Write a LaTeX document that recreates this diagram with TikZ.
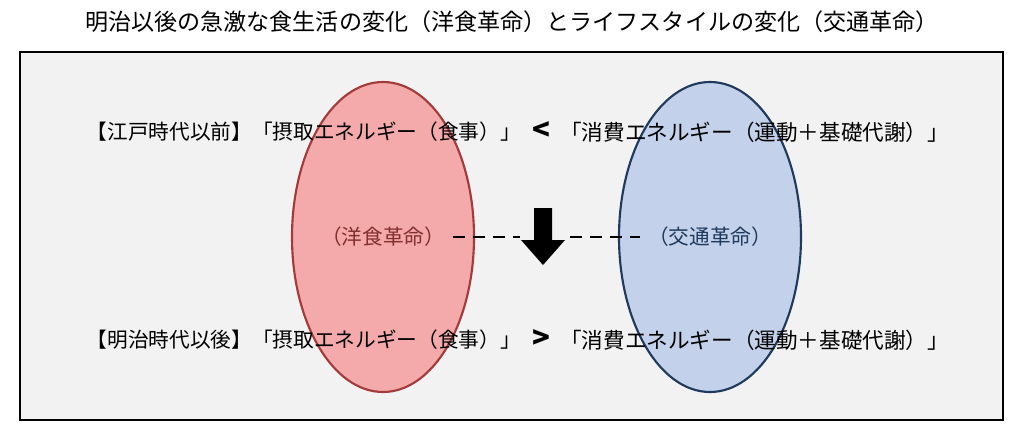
\documentclass[tikz,border=0pt]{standalone}
\usepackage{fontspec}
\setmainfont{Noto Sans CJK JP}
\usetikzlibrary{shapes.geometric,arrows.meta}
\definecolor{bg}{HTML}{F2F2F2}
\definecolor{redf}{HTML}{F4A9AA}
\definecolor{redd}{HTML}{A33B3B}
\definecolor{bluef}{HTML}{C3D2EA}
\definecolor{blued}{HTML}{1F3A5C}
\begin{document}
\begin{tikzpicture}[x=0.75pt,y=-0.75pt,
  txt/.style={inner sep=0pt,font=\fontsize{15.5}{18}\selectfont},
  dsh/.style={dash pattern=on 9pt off 6pt,line width=1pt}]
\useasboundingbox (0,0) rectangle (1024,439);
\node[txt,font=\fontsize{17.3}{20}\selectfont] (title) at (512,22) {明治以後の急激な食生活の変化（洋食革命）とライフスタイルの変化（交通革命）};
\draw[line width=2.2pt,fill=bg] (20,52) rectangle (1003,420);
\node[ellipse,draw=redd,fill=redf,line width=1.6pt,minimum width=182*0.75pt,minimum height=310*0.75pt,inner sep=0pt] (er) at (383,237) {};
\node[ellipse,draw=blued,fill=bluef,line width=1.6pt,minimum width=182*0.75pt,minimum height=310*0.75pt,inner sep=0pt] (eb) at (710,237) {};
\node[txt,anchor=east] (a1) at (521,132) {【江戸時代以前】「摂取エネルギー（食事）」};
\node[txt,font=\fontsize{22}{24}\selectfont\bfseries] (lt) at (541,131) {<};
\node[txt,anchor=west,font=\fontsize{16.2}{18}\selectfont] (b1) at (560,132) {「消費エネルギー（運動＋基礎代謝）」};
\node[txt,anchor=east] (a2) at (521,340) {【明治時代以後】「摂取エネルギー（食事）」};
\node[txt,font=\fontsize{22}{24}\selectfont\bfseries] (gt) at (541,339) {>};
\node[txt,anchor=west,font=\fontsize{16.2}{18}\selectfont] (b2) at (560,340) {「消費エネルギー（運動＋基礎代謝）」};
\node[txt,text=redd!80!black] (w) at (383,237) {（洋食革命）};
\node[txt,text=blued] (k) at (710,237) {（交通革命）};
\node[inner sep=0pt,minimum width=1pt] (arr) at (543,237) {};
\fill (534,208) -- (552,208) -- (552,240) -- (565,240) -- (543,265) -- (521,240) -- (534,240) -- cycle;
\coordinate (d1) at (520,237);
\coordinate (d2) at (570,237);
\draw[dsh] (w.east) ++(8,0) -- (d1);
\draw[dsh] (d2) -- ([xshift=-6]k.west);
\end{tikzpicture}
\end{document}
